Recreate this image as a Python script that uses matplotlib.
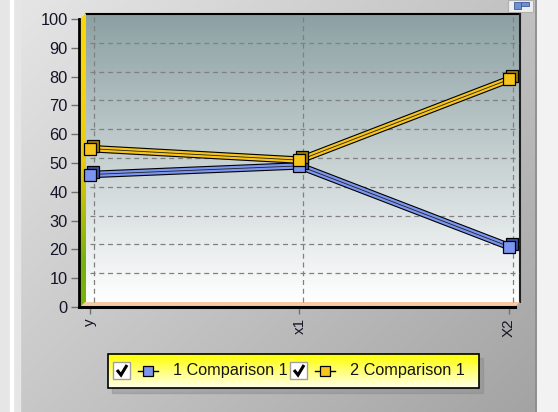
import numpy as np
import matplotlib
matplotlib.use("Agg")
import matplotlib.pyplot as plt
import matplotlib.patheffects as pe
from matplotlib.patches import Rectangle, Polygon
from matplotlib.transforms import offset_copy

plt.rcParams['font.family'] = ['Liberation Sans', 'DejaVu Sans']

# data
categories = ['y', 'x1', 'X2']
series_names = ['1 Comparison 1', '2 Comparison 1']
series1 = [46, 49, 21]
series2 = [55, 51, 79]
colors = ['#7b95f0', '#f6c41a']
dark_colors = ['#3a4fa8', '#a07c00']
yticks = list(range(0, 101, 10))

W, H = 558, 412


def box(x0, y0, x1, y1):
    # pixel box (top-left origin) -> figure fraction rect
    return [x0 / W, 1 - y1 / H, (x1 - x0) / W, (y1 - y0) / H]


fig = plt.figure(figsize=(W / 100, H / 100), dpi=100)

# background layer in pixel coordinates
bg = fig.add_axes([0, 0, 1, 1], zorder=0)
bg.set_xlim(0, W)
bg.set_ylim(H, 0)
bg.axis('off')

xx, yy = np.meshgrid(np.linspace(0, 1, 200), np.linspace(0, 1, 150))
g = (0.55 * xx + 0.45 * yy)
c0, c1 = np.array([0.90, 0.90, 0.90]), np.array([0.64, 0.64, 0.64])
img = c0 + (c1 - c0) * g[..., None]
bg.imshow(img, extent=(20, 537, H, 0), aspect='auto', zorder=0)
# side strips
bg.add_patch(Rectangle((0, 0), 20, H, color='#e6e6e6', zorder=1))
bg.add_patch(Rectangle((10, 0), 3, H, color='#ffffff', zorder=1))
bg.add_patch(Rectangle((537, 0), W - 537, H, color='#f2f2f2', zorder=1))
bg.plot([536, 536], [0, H], color='#8a8a8a', lw=1.2, zorder=2)
# toolbar button
bg.add_patch(Rectangle((508, 0), 25, 12, facecolor='#eeeeee', edgecolor='#b0b0b0', lw=0.8, zorder=2))
bg.add_patch(Rectangle((514, 2), 7, 7, facecolor='#6f8fd0', edgecolor='#3a5a9a', lw=0.6, zorder=3))
bg.add_patch(Rectangle((521, 2), 8, 4, facecolor='#6f8fd0', edgecolor='#3a5a9a', lw=0.6, zorder=3))

# back wall gradient
wall = np.linspace(0, 1, 100)[:, None]
top, bot = np.array([0.55, 0.63, 0.64]), np.array([1.0, 1.0, 1.0])
wimg = top + (bot - top) * wall[..., None]
wimg = np.repeat(wimg, 2, axis=1)
bg.imshow(wimg, extent=(86, 520, 302, 14), aspect='auto', zorder=3)
bg.plot([86, 520], [14, 14], color='black', lw=1.5, zorder=4)
bg.plot([520, 520], [14, 302], color='#202020', lw=1.5, zorder=4)

# left wall (yellow to green)
lw_img = np.array([[0.98, 0.84, 0.05], [0.92, 0.80, 0.05], [0.48, 0.70, 0.05]])[:, None, :]
lw_img = np.repeat(lw_img, 2, axis=1)
im = bg.imshow(lw_img, extent=(80, 86, 308, 13), aspect='auto', zorder=4, interpolation='bilinear')
lw_poly = Polygon([(80, 19), (86, 13), (86, 302), (80, 308)], closed=True, transform=bg.transData)
im.set_clip_path(lw_poly)

# floor
bg.add_patch(Polygon([(80, 307), (85, 302), (520, 302), (515, 307)], closed=True,
                     facecolor='#f7c9a6', edgecolor='none', zorder=4))

# legend
bg.add_patch(Rectangle((112, 358), 371, 35, color='#8a8a8a', alpha=0.45, zorder=5))
lg = np.linspace(0, 1, 50)[:, None]
lgimg = np.array([1, 1, 0]) + (np.array([1, 1, 0.92]) - np.array([1, 1, 0])) * lg[..., None]
lgimg = np.repeat(lgimg, 2, axis=1)
bg.imshow(lgimg, extent=(108, 479, 388, 354), aspect='auto', zorder=6)
bg.add_patch(Rectangle((108, 354), 371, 34, fill=False, edgecolor='black', lw=1.2, zorder=7))

legend_x = [113, 290]
for i, name in enumerate(series_names):
    x0 = legend_x[i]
    bg.add_patch(Rectangle((x0, 362), 17, 17, facecolor='white', edgecolor='#a0a0a0', lw=1, zorder=7))
    bg.plot([x0 + 4, x0 + 8, x0 + 14], [370, 375, 365], color='black', lw=2.2, zorder=8,
            solid_capstyle='butt', solid_joinstyle='miter')
    mx = x0 + 35
    bg.plot([mx - 10, mx + 10], [371, 371], color='black', lw=1, zorder=8)
    bg.add_patch(Rectangle((mx - 5, 366), 10, 10, facecolor=colors[i], edgecolor='black', lw=0.9, zorder=9))
    bg.text(x0 + 60, 371, name, fontsize=11.7, va='center', ha='left', color='#151515', zorder=9)

# main chart (front plane)
ax = fig.add_axes(box(79, 19, 515, 307), zorder=2)
ax.patch.set_alpha(0)
ax.set_xlim(-0.052, 2.029)
ax.set_ylim(0, 100)
x = np.arange(len(categories))

# grid on back wall
grid_tr = offset_copy(ax.transData, fig=fig, x=4, y=5, units='dots')
for v in yticks[1:-1]:
    ax.plot([-0.02, 2.03], [v, v], color='#808080', lw=0.9, ls=(0, (4, 3)), transform=grid_tr,
            clip_on=False, zorder=1)
for xi in x:
    ax.plot([xi, xi], [0, 100], color='#808080', lw=0.9, ls=(0, (4, 3)), transform=grid_tr,
            clip_on=False, zorder=1)

shadow_tr = offset_copy(ax.transData, fig=fig, x=3, y=3, units='dots')
for i, vals in enumerate([series1, series2]):
    ax.plot(x, vals, color='#202020', lw=0.6, zorder=3 + i * 2, clip_on=False,
            path_effects=[pe.Stroke(linewidth=5.4, foreground='black'),
                          pe.Stroke(linewidth=3.8, foreground=colors[i]),
                          pe.Normal()])
    ax.plot(x, vals, 's', ms=8.5, mfc=dark_colors[i], mec='black', mew=0.9,
            transform=shadow_tr, zorder=4 + i * 2, clip_on=False)
    ax.plot(x, vals, 's', ms=8.5, mfc=colors[i], mec='black', mew=0.9,
            zorder=4 + i * 2, clip_on=False)

for s in ['top', 'right']:
    ax.spines[s].set_visible(False)
ax.spines['left'].set_linewidth(2.0)
ax.spines['bottom'].set_linewidth(2.2)
ax.set_yticks(yticks)
ax.set_yticklabels([str(v) for v in yticks], fontsize=11.8, color='#15152a')
ax.set_xticks(x)
ax.set_xticklabels(categories, rotation=90, fontsize=11, color='#15152a')
ax.tick_params(axis='y', length=6, width=1, color='#707070', pad=2)
ax.tick_params(axis='x', length=5, width=1, color='#707070', pad=3)

fig.savefig('out.png', dpi=100)
